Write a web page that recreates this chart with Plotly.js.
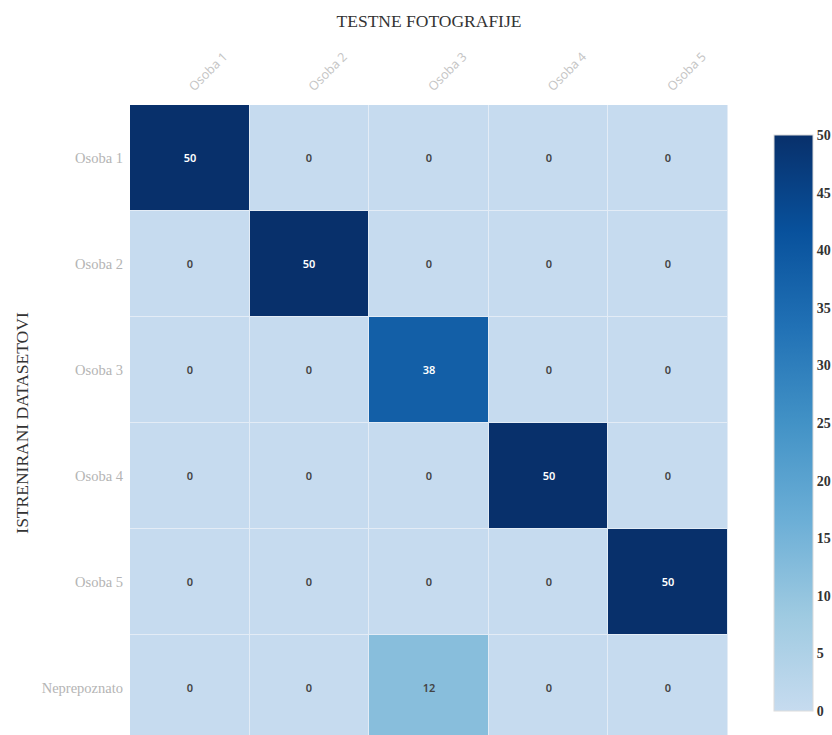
<!DOCTYPE html>
<html>
<head>
<meta charset="utf-8">
<script src="https://cdn.plot.ly/plotly-3.0.1.min.js"></script>
<style>
  html, body { margin: 0; padding: 0; overflow: hidden; background: #fff; }
  #chart { width: 832px; height: 741px; }
</style>
</head>
<body>
<div id="chart"></div>
<script>
// Columns: test photographs; rows: trained datasets
const testPhotos = ["Osoba 1", "Osoba 2", "Osoba 3", "Osoba 4", "Osoba 5"];
const trainedSets = ["Osoba 1", "Osoba 2", "Osoba 3", "Osoba 4", "Osoba 5", "Neprepoznato"];

const rowOsoba1 = [50, 0, 0, 0, 0];
const rowOsoba2 = [0, 50, 0, 0, 0];
const rowOsoba3 = [0, 0, 38, 0, 0];
const rowOsoba4 = [0, 0, 0, 50, 0];
const rowOsoba5 = [0, 0, 0, 0, 50];
const rowNeprepoznato = [0, 0, 12, 0, 0];

const colorbarTicks = [0, 5, 10, 15, 20, 25, 30, 35, 40, 45, 50];

const zMatrix = [rowOsoba1, rowOsoba2, rowOsoba3, rowOsoba4, rowOsoba5, rowNeprepoznato];

const blues = [
  [0.0, "#c6dbef"],
  [0.1667, "#9ecae1"],
  [0.3333, "#6baed6"],
  [0.5, "#4292c6"],
  [0.6667, "#2171b5"],
  [0.8333, "#08519c"],
  [1.0, "#08306b"]
];

const trace = {
  type: "heatmap",
  x: testPhotos,
  y: trainedSets,
  z: zMatrix,
  zmin: 0,
  zmax: 50,
  colorscale: blues,
  xgap: 1,
  ygap: 1,
  texttemplate: "%{z}",
  textfont: { family: "Noto Sans", size: 11, weight: 600 },
  hoverinfo: "x+y+z",
  colorbar: {
    thickness: 39,
    thicknessmode: "pixels",
    len: 576,
    lenmode: "pixels",
    x: 1.077,
    xanchor: "left",
    xpad: 0,
    y: 0.5,
    yanchor: "middle",
    ypad: 0,
    outlinewidth: 1,
    outlinecolor: "#dcdcdc",
    tickvals: colorbarTicks,
    ticktext: colorbarTicks.map(String),
    ticks: "",
    ticklabelstandoff: 2,
    tickfont: { family: "Liberation Sans Narrow", size: 14, color: "#333", weight: "bold" }
  }
};

const layout = {
  width: 832,
  height: 741,
  margin: { l: 130, r: 104, t: 105, b: 0, pad: 0 },
  paper_bgcolor: "#ffffff",
  plot_bgcolor: "#e3ecf6",
  title: {
    text: "TESTNE FOTOGRAFIJE",
    x: 0.5,
    xref: "paper",
    xanchor: "center",
    y: 1 - 21 / 741,
    yref: "container",
    yanchor: "middle",
    font: { family: "Liberation Serif", size: 17.5, color: "#333" }
  },
  xaxis: {
    type: "category",
    side: "top",
    tickangle: -45,
    ticks: "",
    showgrid: false,
    zeroline: false,
    showline: false,
    tickfont: { family: "Open Sans", size: 12.5, color: "#c4c4c4" },
    ticklabelstandoff: 8
  },
  yaxis: {
    type: "category",
    autorange: "reversed",
    ticks: "",
    showgrid: false,
    zeroline: false,
    showline: false,
    tickfont: { family: "Liberation Serif", size: 14.5, color: "#b4b4b4" },
    ticklabelstandoff: 6,
    title: {
      text: "ISTRENIRANI DATASETOVI",
      font: { family: "Liberation Serif", size: 17.5, color: "#333" },
      standoff: 8
    }
  }
};

Plotly.newPlot("chart", [trace], layout, { displayModeBar: false });
</script>
</body>
</html>
